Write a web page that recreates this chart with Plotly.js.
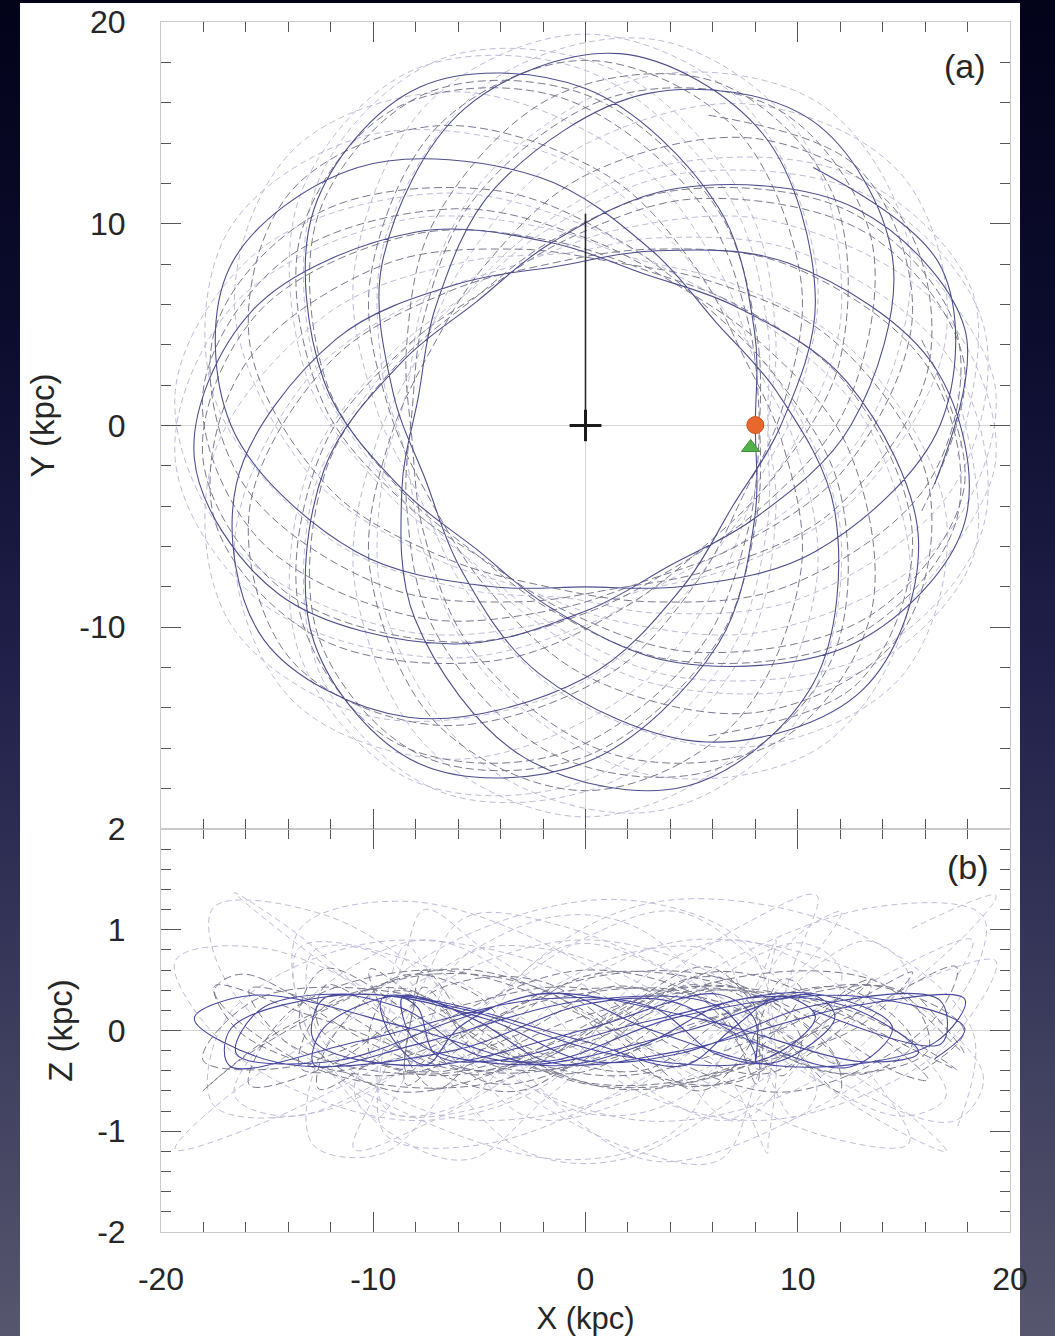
<!DOCTYPE html>
<html>
<head>
<meta charset="utf-8">
<script src="https://cdn.plot.ly/plotly-3.0.1.min.js"></script>
<style>
  html, body { margin: 0; padding: 0; }
  body {
    width: 1055px; height: 1336px; overflow: hidden; position: relative;
    background: linear-gradient(to bottom, #03031a 0%, #0c0c2e 25%, #20204a 50%, #3a3a5c 75%, #56566e 100%);
  }
  #sheet { position: absolute; left: 20px; top: 3px; width: 1000px; height: 1333px; background: #ffffff; }
  #chart { position: absolute; left: 0; top: 0; width: 1055px; height: 1336px; }
</style>
</head>
<body>
<div id="sheet"></div>
<div id="chart"></div>
<script>
// ---------- data (kpc) ----------
// solid orbit (best estimate), time-ordered
const solidX = [16.45, 17.87, 12.79, 4.28, -1.60, -5.14, -8.65, -12.31, -12.79, -7.82, 0.00,
  6.25, 7.97, 8.00, 7.97, 6.25, 0.00, -7.82, -12.79, -12.31, -8.65,
  -5.14, -1.60, 4.28, 12.79, 17.87, 16.45, 9.58, 3.15, -1.39, -5.91,
  -11.75, -16.45, -15.16, -8.35, 0.00, 4.60, 6.93, 9.20, 10.83, 8.35,
  1.61, -5.71, -9.58, -9.06, -7.52, -5.91, -2.17, 5.71, 13.08, 15.69,
  12.31, 7.05, 2.74, -1.60, -8.04, -15.69, -18.43, -14.46, -6.25, 0.00,
  4.00, 7.97, 12.50, 14.46, 10.61, 2.90, -4.28, -7.05, -7.88, -8.65,
  -8.04, -2.90, 4.79, 10.73, 11.75, 9.06, 6.13, 3.15, -2.17, -10.73,
  -16.77, -16.70, -10.83, -4.60, 0.00, 4.60, 10.83, 16.70, 16.77, 10.73];
const solidY = [-2.90, 4.79, 10.73, 11.75, 9.06, 6.13, 3.15, -2.17, -10.73, -16.77, -16.70,
  -10.83, -4.60, 0.00, 4.60, 10.83, 16.70, 16.77, 10.73, 2.17, -3.15,
  -6.13, -9.06, -11.75, -10.73, -4.79, 2.90, 8.04, 8.65, 7.88, 7.05,
  4.28, -2.90, -10.61, -14.46, -12.50, -7.97, -4.00, 0.00, 6.25, 14.46,
  18.43, 15.69, 8.04, 1.60, -2.74, -7.05, -12.31, -15.69, -13.08, -5.71,
  2.17, 5.91, 7.52, 9.06, 9.58, 5.71, -1.61, -8.35, -10.83, -9.20,
  -6.93, -4.60, 0.00, 8.35, 15.16, 16.45, 11.75, 5.91, 1.39, -3.15,
  -9.58, -16.45, -17.87, -12.79, -4.28, 1.60, 5.14, 8.65, 12.31, 12.79,
  7.82, 0.00, -6.25, -7.97, -8.00, -7.97, -6.25, 0.00, 7.82, 12.79];
const solidZ = [-0.28, 0.02, 0.34, 0.13, -0.30, -0.24, 0.22, 0.32, -0.10, -0.35, 0.01,
  0.36, 0.11, -0.31, -0.22, 0.24, 0.30, -0.13, -0.34, 0.03, 0.35,
  0.10, -0.32, -0.21, 0.25, 0.31, -0.12, -0.36, 0.00, 0.37, 0.12,
  -0.30, -0.23, 0.23, 0.33, -0.11, -0.35, 0.02, 0.34, 0.14, -0.29,
  -0.25, 0.21, 0.32, -0.09, -0.34, 0.04, 0.36, 0.10, -0.31, -0.22,
  0.24, 0.30, -0.14, -0.35, 0.01, 0.35, 0.12, -0.32, -0.20, 0.26,
  0.29, -0.12, -0.36, 0.03, 0.37, 0.09, -0.30, -0.24, 0.22, 0.32,
  -0.10, -0.34, 0.00, 0.35, 0.13, -0.31, -0.23, 0.23, 0.31, -0.11,
  -0.35, 0.02, 0.36, 0.11, -0.30, -0.22, 0.25, 0.30, -0.13, 0.20];

// dark dashed orbit 1
const dash1X = [15.84, 17.83, 13.43, 5.24, -0.81, -4.70, -8.43, -12.35, -13.43, -9.05, -1.43,
  5.24, 7.62, 8.20, 8.05, 6.20, 0.00, -7.65, -12.56, -12.21, -8.74,
  -5.27, -1.61, 4.24, 12.56, 17.48, 16.15, 9.50, 3.18, -2.12, -6.58,
  -11.98, -15.84, -13.86, -6.93, 1.08, 5.33, 7.43, 9.26, 10.16, 6.93,
  0.00, -6.93, -10.16, -9.26, -7.10, -4.65, 0.00, 8.20, 14.83, 16.15,
  11.65, 5.98, 1.42, -3.18, -9.50, -16.15, -17.48, -12.56, -4.24, 1.61,
  5.80, 8.98, 11.98, 11.60, 6.19, -1.43, -7.11, -8.43, -8.17, -7.62,
  -5.24, 1.43, 9.05, 13.43, 12.35, 8.43, 4.10, 0.00, -6.20, -14.20,
  -18.03, -15.41, -7.97, -1.61, 2.80, 7.12, 12.21, 15.41, 12.80, 5.61];
const dash1Y = [-4.24, 3.14, 9.41, 11.24, 9.26, 6.72, 3.93, -1.08, -9.41, -15.67, -16.34,
  -11.24, -5.33, 0.00, 4.65, 10.74, 16.40, 16.40, 10.54, 2.15, -3.18,
  -6.28, -9.16, -11.65, -10.54, -4.68, 2.85, 7.97, 8.74, 7.92, 6.58,
  3.21, -4.24, -11.63, -14.86, -12.35, -7.62, -3.47, 0.81, 7.11, 14.86,
  18.10, 14.86, 7.11, 0.81, -4.10, -8.05, -12.40, -14.20, -10.38, -2.85,
  4.24, 7.12, 8.08, 8.74, 7.97, 2.85, -4.68, -10.54, -11.65, -9.16,
  -5.80, -2.41, 3.21, 11.60, 17.01, 16.34, 10.16, 3.93, -0.72, -5.33,
  -11.24, -16.34, -15.67, -9.41, -1.08, 3.93, 7.10, 9.30, 10.74, 8.20,
  1.58, -5.61, -9.50, -9.16, -7.71, -5.98, -2.15, 5.61, 12.80, 15.41];
const dash1Z = [-0.40, 0.00, 0.45, 0.08, -0.43, -0.15, 0.41, 0.23, -0.37, -0.29, 0.32,
  0.34, -0.26, -0.39, 0.19, 0.42, -0.12, -0.44, 0.04, 0.45, 0.04,
  -0.44, -0.12, 0.42, 0.19, -0.39, -0.26, 0.34, 0.32, -0.29, -0.37,
  0.23, 0.41, -0.15, -0.43, 0.08, 0.45, 0.00, -0.45, -0.08, 0.43,
  0.15, -0.41, -0.23, 0.37, 0.29, -0.32, -0.34, 0.26, 0.39, -0.19,
  -0.42, 0.12, 0.44, -0.04, -0.45, -0.04, 0.44, 0.12, -0.42, -0.19,
  0.39, 0.26, -0.34, -0.32, 0.29, 0.37, -0.23, -0.41, 0.15, 0.43,
  -0.08, -0.45, 0.00, 0.45, 0.08, -0.43, -0.15, 0.41, 0.23, -0.37,
  -0.29, 0.32, 0.34, -0.26, -0.39, 0.19, 0.42, -0.12, -0.44, 0.10];

// dark dashed orbit 2
const dash2X = [15.84, 17.83, 13.43, 5.24, -0.81, -4.70, -8.43, -12.35, -13.43, -9.05, -1.43,
  5.24, 7.62, 8.20, 8.05, 6.20, 0.00, -7.65, -12.56, -12.21, -8.74,
  -5.27, -1.61, 4.24, 12.56, 17.48, 16.15, 9.50, 3.18, -2.12, -6.58,
  -11.98, -15.84, -13.86, -6.93, 1.08, 5.33, 7.43, 9.26, 10.16, 6.93,
  0.00, -6.93, -10.16, -9.26, -7.10, -4.65, 0.00, 8.20, 14.83, 16.15,
  11.65, 5.98, 1.42, -3.18, -9.50, -16.15, -17.48, -12.56, -4.24, 1.61,
  5.80, 8.98, 11.98, 11.60, 6.19, -1.43, -7.11, -8.43, -8.17, -7.62,
  -5.24, 1.43, 9.05, 13.43, 12.35, 8.43, 4.10, 0.00, -6.20, -14.20,
  -18.03, -15.41, -7.97, -1.61, 2.80, 7.12, 12.21, 15.41, 12.80, 5.61];
const dash2Y = [4.24, -3.14, -9.41, -11.24, -9.26, -6.72, -3.93, 1.08, 9.41, 15.67, 16.34,
  11.24, 5.33, 0.00, -4.65, -10.74, -16.40, -16.40, -10.54, -2.15, 3.18,
  6.28, 9.16, 11.65, 10.54, 4.68, -2.85, -7.97, -8.74, -7.92, -6.58,
  -3.21, 4.24, 11.63, 14.86, 12.35, 7.62, 3.47, -0.81, -7.11, -14.86,
  -18.10, -14.86, -7.11, -0.81, 4.10, 8.05, 12.40, 14.20, 10.38, 2.85,
  -4.24, -7.12, -8.08, -8.74, -7.97, -2.85, 4.68, 10.54, 11.65, 9.16,
  5.80, 2.41, -3.21, -11.60, -17.01, -16.34, -10.16, -3.93, 0.72, 5.33,
  11.24, 16.34, 15.67, 9.41, 1.08, -3.93, -7.10, -9.30, -10.74, -8.20,
  -1.58, 5.61, 9.50, 9.16, 7.71, 5.98, 2.15, -5.61, -12.80, -15.41];
const dash2Z = [0.30, -0.22, 0.51, 0.43, -0.37, -0.51, 0.19, 0.61, 0.03, -0.60, -0.19,
  0.53, 0.39, -0.39, -0.53, 0.22, 0.60, 0.00, -0.58, -0.17, 0.54,
  0.37, -0.41, -0.51, 0.15, 0.63, 0.05, -0.61, -0.20, 0.49, 0.44,
  -0.34, -0.54, 0.20, 0.60, 0.02, -0.60, -0.24, 0.51, 0.41, -0.37,
  -0.53, 0.17, 0.61, 0.07, -0.58, -0.15, 0.54, 0.36, -0.43, -0.49,
  0.24, 0.58, 0.03, -0.60, -0.19, 0.56, 0.39, -0.39, -0.51, 0.20,
  0.63, 0.00, -0.61, -0.20, 0.53, 0.43, -0.36, -0.54, 0.17, 0.60,
  0.05, -0.58, -0.22, 0.51, 0.41, -0.37, -0.53, 0.19, 0.61, 0.02,
  -0.60, -0.17, 0.54, 0.37, -0.41, -0.51, 0.22, 0.58, 0.03, -0.45];

// light dashed orbit 1
const light1X = [17.53, 18.23, 12.45, 3.44, -2.56, -6.08, -9.56, -12.85, -12.45, -6.63, 1.53,
  7.63, 8.97, 8.60, 8.57, 6.65, 0.00, -8.20, -13.48, -13.10, -9.30,
  -5.53, -1.72, 4.55, 13.48, 18.74, 17.33, 10.19, 3.39, -0.75, -5.68,
  -12.05, -17.53, -16.80, -10.10, -1.16, 4.18, 7.05, 9.86, 12.05, 10.10,
  3.37, -4.55, -9.40, -9.56, -8.47, -7.58, -4.55, 3.06, 11.13, 15.24,
  13.30, 8.57, 4.30, 0.00, -6.65, -15.24, -19.33, -16.54, -8.55, -1.72,
  2.23, 7.00, 12.85, 17.00, 14.86, 7.44, -1.16, -5.68, -7.79, -9.86,
  -10.90, -7.44, 0.00, 7.44, 10.90, 9.86, 8.08, 6.36, 2.31, -6.02,
  -13.72, -16.54, -13.10, -7.58, -2.94, 1.72, 8.55, 16.54, 19.33, 15.24];
const light1Y = [-1.53, 6.63, 12.45, 12.85, 9.56, 6.08, 2.56, -3.44, -12.45, -18.23, -17.53,
  -10.90, -4.18, 0.00, 4.95, 11.52, 17.60, 17.58, 11.31, 2.31, -3.39,
  -6.59, -9.75, -12.50, -11.31, -5.02, 3.06, 8.55, 9.30, 8.57, 8.11,
  5.62, -1.53, -9.70, -14.42, -13.25, -8.97, -4.93, -0.86, 5.62, 14.42,
  19.11, 17.00, 9.40, 2.56, -1.49, -6.36, -12.50, -17.33, -15.89, -8.80,
  0.00, 4.95, 7.45, 9.90, 11.52, 8.80, 1.69, -6.02, -10.19, -9.75,
  -8.31, -7.00, -3.44, 4.55, 12.47, 15.95, 13.25, 8.11, 3.63, -0.86,
  -7.63, -15.95, -19.40, -15.95, -7.63, -0.86, 2.94, 7.58, 13.10, 16.54,
  13.72, 6.02, -2.31, -6.36, -8.08, -9.75, -10.19, -6.02, 1.69, 8.80];
const light1Z = [-0.95, 0.00, 1.00, 1.28, 0.65, -0.44, -1.22, -1.13, -0.23, 0.84, 1.30,
  0.84, -0.23, -1.13, -1.22, -0.44, 0.65, 1.28, 1.00, 0.00, -1.00,
  -1.28, -0.65, 0.44, 1.22, 1.13, 0.23, -0.84, -1.30, -0.84, 0.23,
  1.13, 1.22, 0.44, -0.65, -1.28, -1.00, 0.00, 0.92, 1.18, 0.60,
  -0.40, -1.12, -1.04, -0.21, 0.77, 1.20, 0.77, -0.21, -1.04, -1.12,
  -0.40, 0.60, 1.18, 0.92, 0.00, -0.92, -1.18, -0.60, 0.40, 1.12,
  1.04, 0.21, -0.77, -1.20, -0.77, 0.21, 1.04, 1.12, 0.40, -0.60,
  -1.18, -0.92, 0.00, 1.05, 1.34, 0.68, -0.46, -1.28, -1.19, -0.24,
  0.88, 1.37, 0.88, -0.24, -1.19, -1.28, -0.46, 0.68, 1.34, 1.00];

// light dashed orbit 2
const light2X = [17.53, 18.23, 12.45, 3.44, -2.56, -6.08, -9.56, -12.85, -12.45, -6.63, 1.53,
  7.63, 8.97, 8.60, 8.57, 6.65, 0.00, -8.20, -13.48, -13.10, -9.30,
  -5.53, -1.72, 4.55, 13.48, 18.74, 17.33, 10.19, 3.39, -0.75, -5.68,
  -12.05, -17.53, -16.80, -10.10, -1.16, 4.18, 7.05, 9.86, 12.05, 10.10,
  3.37, -4.55, -9.40, -9.56, -8.47, -7.58, -4.55, 3.06, 11.13, 15.24,
  13.30, 8.57, 4.30, 0.00, -6.65, -15.24, -19.33, -16.54, -8.55, -1.72,
  2.23, 7.00, 12.85, 17.00, 14.86, 7.44, -1.16, -5.68, -7.79, -9.86,
  -10.90, -7.44, 0.00, 7.44, 10.90, 9.86, 8.08, 6.36, 2.31, -6.02,
  -13.72, -16.54, -13.10, -7.58, -2.94, 1.72, 8.55, 16.54, 19.33, 15.24];
const light2Y = [1.53, -6.63, -12.45, -12.85, -9.56, -6.08, -2.56, 3.44, 12.45, 18.23, 17.53,
  10.90, 4.18, 0.00, -4.95, -11.52, -17.60, -17.58, -11.31, -2.31, 3.39,
  6.59, 9.75, 12.50, 11.31, 5.02, -3.06, -8.55, -9.30, -8.57, -8.11,
  -5.62, 1.53, 9.70, 14.42, 13.25, 8.97, 4.93, 0.86, -5.62, -14.42,
  -19.11, -17.00, -9.40, -2.56, 1.49, 6.36, 12.50, 17.33, 15.89, 8.80,
  0.00, -4.95, -7.45, -9.90, -11.52, -8.80, -1.69, 6.02, 10.19, 9.75,
  8.31, 7.00, 3.44, -4.55, -12.47, -15.95, -13.25, -8.11, -3.63, 0.86,
  7.63, 15.95, 19.40, 15.95, 7.63, 0.86, -2.94, -7.58, -13.10, -16.54,
  -13.72, -6.02, 2.31, 6.36, 8.08, 9.75, 10.19, 6.02, -1.69, -8.80];
const light2Z = [0.55, 0.90, 0.38, -0.58, -0.87, -0.16, 0.74, 0.78, -0.08, -0.85, -0.64,
  0.31, 0.90, 0.45, -0.52, -0.89, -0.23, 0.69, 0.82, 0.00, -0.82,
  -0.69, 0.23, 0.89, 0.52, -0.45, -0.90, -0.31, 0.64, 0.85, 0.08,
  -0.78, -0.74, 0.16, 0.87, 0.58, -0.38, -0.90, -0.38, 0.58, 0.87,
  0.16, -0.74, -0.78, 0.08, 0.85, 0.64, -0.31, -0.90, -0.45, 0.52,
  0.89, 0.23, -0.69, -0.82, 0.00, 0.82, 0.69, -0.23, -0.89, -0.52,
  0.45, 0.90, 0.31, -0.64, -0.85, -0.08, 0.78, 0.74, -0.16, -0.87,
  -0.58, 0.38, 0.90, 0.38, -0.58, -0.87, -0.16, 0.74, 0.78, -0.08,
  -0.85, -0.64, 0.31, 0.90, 0.45, -0.52, -0.89, -0.23, 0.69, 0.45];

// markers and reference lines
const starNowX = [8.0],  starNowY = [0.02];
const starPrevX = [7.78], starPrevY = [-1.09];
const gcLineX = [0, 0], gcLineY = [0, 10.5];
const gcCrossX = [-0.75, 0.75, null, 0, 0];
const gcCrossY = [0, 0, null, -0.78, 0.78];

// tick labels
const xTicks = [-20, -10, 0, 10, 20];
const yTicksA = [-10, 0, 10, 20];
const zTicksB = [-2, -1, 0, 1, 2];

// ---------- styles ----------
const FONT = 'Liberation Sans, Arial, Helvetica, sans-serif';
const TXT = '#262626';
const styles = {
  solid:  {color: '#4e4e8e', width: 1.1, dash: 'solid'},
  dark:   {color: '#7a7a90', width: 1.0, dash: '8px,4px'},
  light:  {color: '#bcbcd8', width: 1.0, dash: '6px,4px'}
};

function orbit(x, y, st, xa, ya) {
  return {type: 'scatter', mode: 'lines', x: x, y: y, xaxis: xa, yaxis: ya,
          line: {color: st.color, width: st.width, dash: st.dash, shape: 'spline', smoothing: 1.0},
          hoverinfo: 'skip', showlegend: false};
}

const traces = [
  // panel (a): X-Y
  orbit(light1X, light1Y, styles.light, 'x2', 'y2'),
  orbit(light2X, light2Y, styles.light, 'x2', 'y2'),
  orbit(dash1X, dash1Y, styles.dark, 'x2', 'y2'),
  orbit(dash2X, dash2Y, styles.dark, 'x2', 'y2'),
  orbit(solidX, solidY, styles.solid, 'x2', 'y2'),
  {type: 'scatter', mode: 'lines', x: gcLineX, y: gcLineY, xaxis: 'x2', yaxis: 'y2',
   line: {color: '#2a2a2a', width: 1.6}, hoverinfo: 'skip', showlegend: false},
  {type: 'scatter', mode: 'lines', x: gcCrossX, y: gcCrossY, xaxis: 'x2', yaxis: 'y2',
   line: {color: '#1a1a1a', width: 3}, hoverinfo: 'skip', showlegend: false},
  {type: 'scatter', mode: 'markers', x: starPrevX, y: starPrevY, xaxis: 'x2', yaxis: 'y2',
   marker: {symbol: 'triangle-up', size: 16, color: '#55b04a', line: {color: '#3f8f38', width: 1}},
   hoverinfo: 'skip', showlegend: false},
  {type: 'scatter', mode: 'markers', x: starNowX, y: starNowY, xaxis: 'x2', yaxis: 'y2',
   marker: {symbol: 'circle', size: 17, color: '#e8672c', line: {color: '#c9501c', width: 1}},
   hoverinfo: 'skip', showlegend: false},
  // panel (b): X-Z
  orbit(light1X, light1Z, styles.light, 'x', 'y'),
  orbit(light2X, light2Z, styles.light, 'x', 'y'),
  orbit(dash1X, dash1Z, styles.dark, 'x', 'y'),
  orbit(dash2X, dash2Z, styles.dark, 'x', 'y'),
  orbit(solidX, solidZ, {color: '#4848a0', width: 1.1, dash: 'solid'}, 'x', 'y')
];

const frame = {
  showline: true, linecolor: '#c9c9c9', linewidth: 1, mirror: 'allticks',
  ticks: 'inside', ticklen: 20, tickwidth: 1, tickcolor: '#555555',
  showgrid: false, fixedrange: true,
  tickfont: {family: FONT, size: 32, color: TXT}
};

const SPLIT = 403 / 1210;

const layout = {
  width: 1055, height: 1336,
  margin: {l: 161, r: 45, t: 22, b: 104, pad: 0},
  paper_bgcolor: 'rgba(0,0,0,0)',
  plot_bgcolor: '#ffffff',
  showlegend: false,
  font: {family: FONT, color: TXT},
  xaxis: Object.assign({}, frame, {
    anchor: 'y', range: [-20, 20], tickmode: 'array', tickvals: xTicks, ticktext: xTicks.map(String),
    minor: {ticks: 'inside', ticklen: 10, tickwidth: 1, tickcolor: '#555555', dtick: 2, tick0: 0, showgrid: false},
    zeroline: false, ticklabelstandoff: 19,
    title: {text: 'X (kpc)', font: {family: FONT, size: 31, color: TXT}, standoff: 14}
  }),
  xaxis2: Object.assign({}, frame, {
    anchor: 'y2', matches: 'x', range: [-20, 20], tickmode: 'array', tickvals: xTicks,
    showticklabels: false,
    minor: {ticks: 'inside', ticklen: 10, tickwidth: 1, tickcolor: '#555555', dtick: 2, tick0: 0, showgrid: false},
    zeroline: true, zerolinecolor: '#d4d4d4', zerolinewidth: 1
  }),
  yaxis: Object.assign({}, frame, {
    anchor: 'x', domain: [0, SPLIT], range: [-2, 2], tickmode: 'array', tickvals: zTicksB, ticktext: zTicksB.map(String),
    minor: {ticks: 'inside', ticklen: 10, tickwidth: 1, tickcolor: '#555555', dtick: 0.2, tick0: 0, showgrid: false},
    zeroline: true, zerolinecolor: '#d4d4d4', zerolinewidth: 1, ticklabelstandoff: 28,
    title: {text: 'Z (kpc)', font: {family: FONT, size: 33, color: TXT}, standoff: 14}
  }),
  yaxis2: Object.assign({}, frame, {
    anchor: 'x2', domain: [SPLIT, 1], range: [-20, 20], tickmode: 'array', tickvals: yTicksA, ticktext: yTicksA.map(String),
    minor: {ticks: 'inside', ticklen: 10, tickwidth: 1, tickcolor: '#555555', dtick: 2, tick0: 0, showgrid: false},
    zeroline: true, zerolinecolor: '#d4d4d4', zerolinewidth: 1, ticklabelstandoff: 28,
    title: {text: 'Y (kpc)', font: {family: FONT, size: 33, color: TXT}, standoff: 14}
  }),
  annotations: [
    {text: '(a)', xref: 'x2', yref: 'y2', x: 17.9, y: 17.8, showarrow: false,
     font: {family: FONT, size: 34, color: TXT}, xanchor: 'center', yanchor: 'middle'},
    {text: '(b)', xref: 'x', yref: 'y', x: 18.0, y: 1.62, showarrow: false,
     font: {family: FONT, size: 34, color: TXT}, xanchor: 'center', yanchor: 'middle'}
  ]
};

Plotly.newPlot('chart', traces, layout, {staticPlot: true, displayModeBar: false});
</script>
</body>
</html>
